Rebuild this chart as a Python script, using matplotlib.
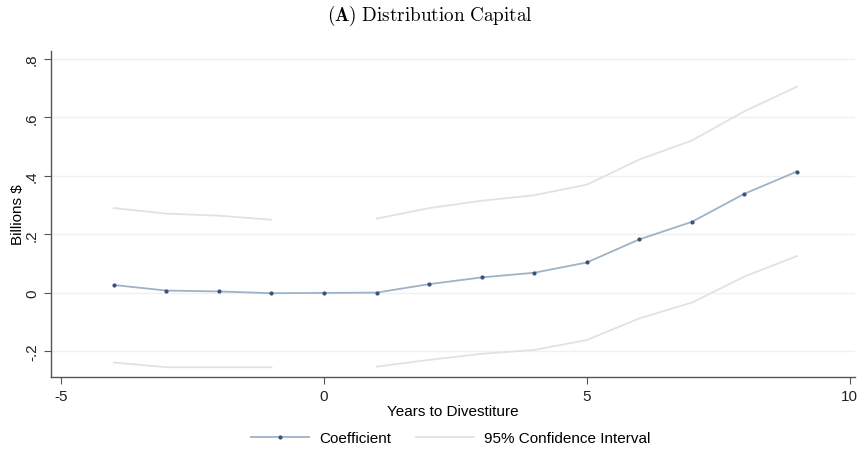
import numpy as np
import matplotlib
matplotlib.use("Agg")
import matplotlib.pyplot as plt

# Event-study estimates
years = [-4, -3, -2, -1, 0, 1, 2, 3, 4, 5, 6, 7, 8, 9]
coef = [0.027, 0.008, 0.005, -0.001, 0.0, 0.001, 0.030, 0.053, 0.069,
        0.104, 0.183, 0.243, 0.339, 0.415]

# Confidence interval, with a gap at year 0
ci_years = [-4, -3, -2, -1, np.nan, 1, 2, 3, 4, 5, 6, 7, 8, 9]
ci_upper = [0.290, 0.271, 0.264, 0.250, np.nan, 0.254, 0.290, 0.315, 0.334,
            0.370, 0.456, 0.521, 0.621, 0.705]
ci_lower = [-0.238, -0.254, -0.254, -0.254, np.nan, -0.252, -0.229, -0.208,
            -0.195, -0.161, -0.087, -0.033, 0.056, 0.126]

y_ticks = [-0.2, 0, 0.2, 0.4, 0.6, 0.8]
y_ticklabels = ["-.2", "0", ".2", ".4", ".6", ".8"]
x_ticks = [-5, 0, 5, 10]

plt.rcParams["font.family"] = ["Liberation Sans", "DejaVu Sans"]
plt.rcParams["mathtext.fontset"] = "cm"

fig = plt.figure(figsize=(8.6, 4.52), dpi=100)
ax = fig.add_axes([0.059, 0.164, 0.935, 0.721])

ci_color = "#dde3ea"
coef_color = "#9fb2c6"
marker_color = "#34557a"

ax.plot(ci_years, ci_upper, color=ci_color, lw=1.3, label="95% Confidence Interval")
ax.plot(ci_years, ci_lower, color=ci_color, lw=1.3)
ax.plot(years, coef, color=coef_color, lw=1.3, marker="o", ms=2.0,
        mfc=marker_color, mec=marker_color, label="Coefficient")

ax.set_xlim(-5.2, 10.1)
ax.set_ylim(-0.287, 0.827)
ax.set_xticks(x_ticks)
ax.set_xticklabels([str(v) for v in x_ticks])
ax.set_yticks(y_ticks)
ax.set_yticklabels(y_ticklabels, rotation=90, va="center")

ax.grid(axis="y", color="#f0f0f0", lw=1)
ax.set_axisbelow(True)
for side in ["top", "right"]:
    ax.spines[side].set_visible(False)
for side in ["left", "bottom"]:
    ax.spines[side].set_color("#555555")
    ax.spines[side].set_linewidth(1.0)
ax.tick_params(axis="both", direction="out", length=5, color="#555555",
               labelsize=11, labelcolor="#222222")

ax.set_xlabel("Years to Divestiture", fontsize=11, labelpad=1)
ax.set_ylabel("Billions $", fontsize=11, labelpad=0)

handles, labels = ax.get_legend_handles_labels()
order = [1, 0]
fig.legend([handles[i] for i in order], [labels[i] for i in order],
           loc="center", bbox_to_anchor=(0.524, 0.028), ncol=2, frameon=False,
           fontsize=11, handlelength=3.8, handletextpad=0.65, columnspacing=1.6)

fig.text(0.5, 0.965, r"$\mathbf{(A)}\ \mathrm{Distribution\ Capital}$",
         ha="center", va="center", fontsize=13.8)

fig.savefig("out.png", dpi=100, facecolor="white")
